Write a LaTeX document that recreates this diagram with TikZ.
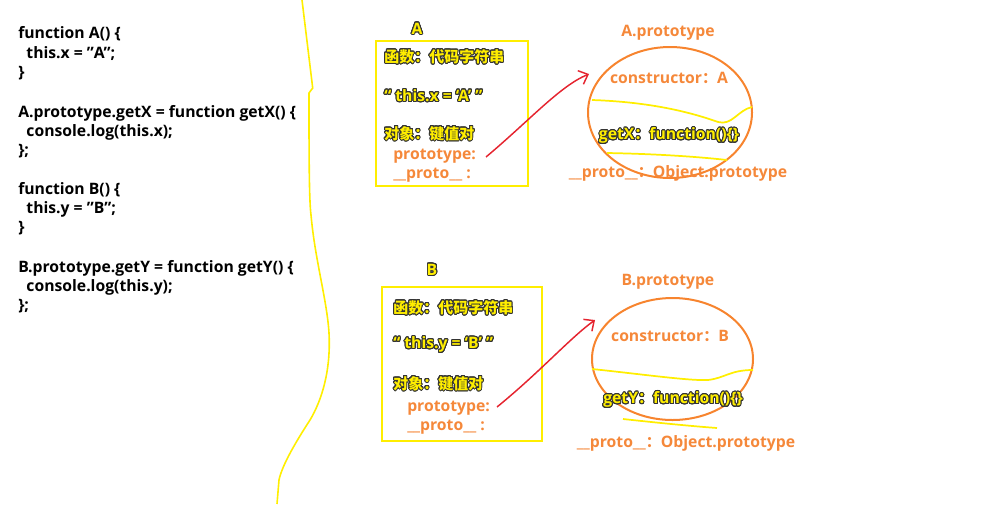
\documentclass[tikz,border=0pt]{standalone}
\usepackage{fontspec}
\setmainfont{Open Sans}
\newfontfamily\cjk{Noto Sans CJK SC Bold}
\usepackage{contour}
\contourlength{0.7pt}
\contournumber{24}
\usetikzlibrary{arrows.meta}
\definecolor{ylw}{HTML}{FFEE00}
\definecolor{org}{HTML}{F5883A}
\definecolor{ell}{HTML}{F7842E}
\definecolor{arr}{HTML}{E5242F}
\newcommand{\yt}[1]{\textcolor{ylw}{\contour{black!80}{#1}}}
\newcommand{\zh}[1]{{\cjk\fontsize{11.25}{12}\selectfont #1}}
\newcommand{\dq}{\char34\relax}
\tikzset{
  code/.style={anchor=west, inner sep=0pt, font=\bfseries\fontsize{11.8}{13}\selectfont, text=black},
  ytxt/.style={inner sep=0pt, font=\bfseries\fontsize{11.8}{13}\selectfont},
  otxt/.style={inner sep=0pt, font=\bfseries\fontsize{11.8}{13}\selectfont, text=org},
  ybox/.style={draw=ylw, line width=1.6pt},
  oell/.style={draw=ell, line width=1.5pt},
  yline/.style={draw=ylw, line width=1.3pt},
  rarrow/.style={draw=arr, line width=1.1pt, -{Straight Barb[length=6pt,width=11pt]}},
}
\begin{document}
\begin{tikzpicture}[x=0.75pt,y=-0.75pt]
\useasboundingbox (0,0) rectangle (995,504);
% code
\node[code] (c1) at (18,34) {function A() \{};
\node[code] (c2) at (18,54) {\ \ this.x = \dq A\dq;};
\node[code] (c3) at (18,73) {\}};
\node[code] (c4) at (18,113) {A.prototype.getX = function getX() \{};
\node[code] (c5) at (18,132) {\ \ console.log(this.x);};
\node[code] (c6) at (18,151) {\};};
\node[code] (c7) at (18,190) {function B() \{};
\node[code] (c8) at (18,209) {\ \ this.y = \dq B\dq;};
\node[code] (c9) at (18,228) {\}};
\node[code] (c10) at (18,268) {B.prototype.getY = function getY() \{};
\node[code] (c11) at (18,287) {\ \ console.log(this.y);};
\node[code] (c12) at (18,306) {\};};
% yellow divider
\draw[draw=ylw, line width=1.2pt] (302,0) -- (312.7,88) -- (309,93)
  .. controls (309,150) and (309,200) .. (311,215)
  .. controls (315,260) and (327,300) .. (329,333)
  .. controls (331,370) and (322,400) .. (310,420)
  .. controls (297,440) and (282,465) .. (279,480) -- (277,504);
% box A
\draw[ybox] (376,41) rectangle (528,186);
\node[ytxt] (lA) at (417,29) {\yt{A}};
\node[ytxt, anchor=west] (a1) at (384,57) {\yt{\zh{函数：代码字符串}}};
\node[ytxt, anchor=west] (a2) at (384,96) {\yt{“ this.x = ‘A’ ”}};
\node[ytxt, anchor=west] (a3) at (384,134) {\yt{\zh{对象：键值对}}};
\node[otxt, anchor=west] (a4) at (393,156) {prototype:};
\node[otxt, anchor=west] (a5) at (393,175) {\_\_proto\_\_ :};
% ellipse A
\node[otxt] (pA) at (668,33) {A.prototype};
\draw[oell] (670,112.5) ellipse [x radius=82, y radius=65.5];
\node[otxt] (kA) at (669,78) {constructor\zh{：}A};
\draw[yline] (592,100) .. controls (650,102) and (690,112) .. (718,122)
  .. controls (732,126) and (738,110) .. (752,107);
\node[ytxt] (gA) at (669,136) {\yt{getX\zh{：}function()\{\}}};
\draw[yline] (607,153) .. controls (660,154) and (700,157) .. (727,160);
\node[otxt] (oA) at (678,173) {\_\_proto\_\_\zh{：}Object.prototype};
\coordinate (sA) at (486,157);
\coordinate (tA) at (589,74);
\draw[rarrow] (sA) .. controls (530,120) and (560,86) .. (tA);
% box B
\draw[ybox] (382,287) rectangle (542,441);
\node[ytxt] (lB) at (432,270) {\yt{B}};
\node[ytxt, anchor=west] (b1) at (393,308) {\yt{\zh{函数：代码字符串}}};
\node[ytxt, anchor=west] (b2) at (393,345) {\yt{“ this.y = ‘B’ ”}};
\node[ytxt, anchor=west] (b3) at (393,384) {\yt{\zh{对象：键值对}}};
\node[otxt, anchor=west] (b4) at (407,408) {prototype:};
\node[otxt, anchor=west] (b5) at (407,427) {\_\_proto\_\_ :};
% ellipse B
\node[otxt] (pB) at (668,282) {B.prototype};
\draw[oell] (672.5,359) ellipse [x radius=80.5, y radius=61];
\node[otxt] (kB) at (670,336) {constructor\zh{：}B};
\draw[yline] (592,369) .. controls (640,374) and (690,381) .. (708,380)
  .. controls (725,378) and (730,370) .. (753,370);
\node[ytxt] (gB) at (673,400) {\yt{getY\zh{：}function()\{\}}};
\draw[yline] (623,419) .. controls (660,423) and (690,426) .. (717,428);
\node[otxt] (oB) at (686,443) {\_\_proto\_\_\zh{：}Object.prototype};
\coordinate (sB) at (497,407);
\coordinate (tB) at (595,320);
\draw[rarrow] (sB) .. controls (540,372) and (570,338) .. (tB);
\end{tikzpicture}
\end{document}
